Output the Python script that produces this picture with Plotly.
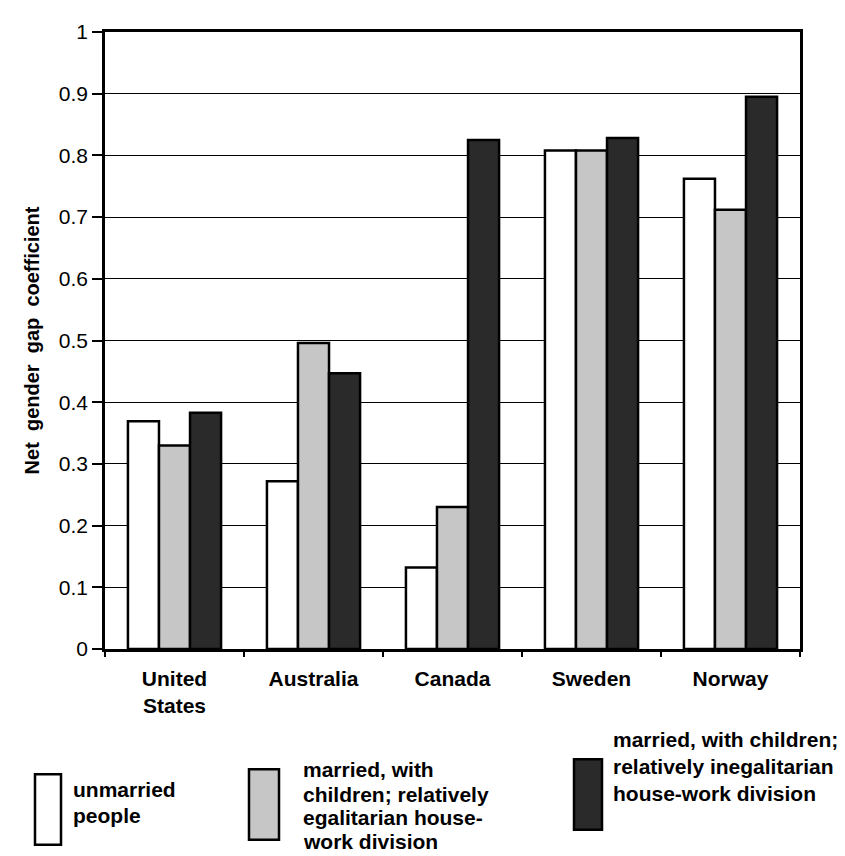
import plotly.graph_objects as go

countries = ["United<br>States", "Australia", "Canada", "Sweden", "Norway"]
series_names = [
    "unmarried<br>people",
    "married, with<br>children; relatively<br>egalitarian house-<br>work division",
    "married, with children;<br>relatively inegalitarian<br>house-work division",
]
unmarried = [0.369, 0.272, 0.132, 0.808, 0.762]
married_egalitarian = [0.330, 0.496, 0.230, 0.808, 0.712]
married_inegalitarian = [0.383, 0.447, 0.825, 0.828, 0.895]
y_ticks = [0, 0.1, 0.2, 0.3, 0.4, 0.5, 0.6, 0.7, 0.8, 0.9, 1]

W, H = 845, 856
L, R, T, B = 97, 53, 20, 215
FONT = "Arial, Liberation Sans, Helvetica, sans-serif"
colors = ["#ffffff", "#c6c6c6", "#2a2a2a"]

fig = go.Figure()
for vals, name, col in zip([unmarried, married_egalitarian, married_inegalitarian], series_names, colors):
    fig.add_trace(go.Bar(
        x=countries, y=vals, name=name,
        marker=dict(color=col, line=dict(color="#000000", width=2.5)),
        showlegend=False,
    ))

fig.update_layout(
    width=W, height=H,
    margin=dict(l=L, r=R, t=T, b=B),
    paper_bgcolor="white", plot_bgcolor="white",
    barmode="group", bargap=0.33, bargroupgap=0,
    font=dict(family=FONT, color="#000000"),
)
fig.update_xaxes(
    type="category", tickson="boundaries", ticks="outside", ticklen=5, tickwidth=1.5,
    tickcolor="#000", showline=True, linecolor="#000", linewidth=2.5, mirror=True,
    showgrid=False, tickfont=dict(size=21, family=FONT, weight="bold"),
    ticklabelstandoff=9,
)
fig.update_yaxes(
    range=[0, 1], tickvals=y_ticks, ticktext=[f"{v:g}" for v in y_ticks],
    ticks="outside", ticklen=10, tickwidth=1.5, tickcolor="#000",
    showline=True, linecolor="#000", linewidth=2.5, mirror=True,
    showgrid=True, gridcolor="#000", gridwidth=1.3, zeroline=False,
    tickfont=dict(size=21, family=FONT),
    title=dict(text="Net  gender  gap  coefficient", font=dict(size=20, family=FONT, weight="bold"), standoff=14),
)

pw, ph = W - L - R, H - T - B
def px(x):
    return (x - L) / pw
def py(y):
    return (H - B - y) / ph

legend_boxes = [(27, 53, 767, 838), (241, 271, 762, 833), (566, 594, 752, 823)]
legend_text_x = [64, 294, 604]
legend_line_y = [[782, 809], [762, 787, 811, 835], [732, 759, 786]]
for (x0, x1, y0, y1), col, name, tx, ys in zip(legend_boxes, colors, series_names, legend_text_x, legend_line_y):
    fig.add_shape(type="rect", xref="paper", yref="paper",
                  x0=px(x0), x1=px(x1), y0=py(y1), y1=py(y0),
                  fillcolor=col, line=dict(color="#000", width=2.5))
    for line, ty in zip(name.split("<br>"), ys):
        fig.add_annotation(xref="paper", yref="paper", x=px(tx), y=py(ty),
                           xanchor="left", yanchor="middle", align="left", showarrow=False,
                           borderpad=0, text=line, font=dict(size=21, family=FONT, weight="bold"))

fig.write_html("out.html")
